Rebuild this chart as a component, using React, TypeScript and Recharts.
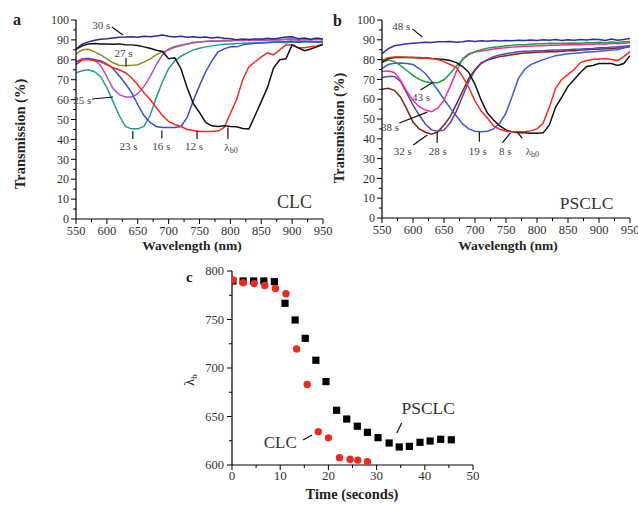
import React from 'react';
import { LineChart, Line, XAxis, YAxis, ReferenceDot, ReferenceLine, ScatterChart, Scatter } from 'recharts';

const FONT = '"Liberation Serif", "Times New Roman", Times, serif';

// ---------- shared axes ----------
const wavelengths = [550, 560, 570, 580, 590, 600, 610, 620, 630, 640, 650, 660, 670, 680, 690, 700, 710, 720, 730, 740, 750, 760, 770, 780, 790, 800, 810, 820, 830, 840, 850, 860, 870, 880, 890, 900, 910, 920, 930, 940, 950];
const wlTicks = [550, 575, 600, 625, 650, 675, 700, 725, 750, 775, 800, 825, 850, 875, 900, 925, 950];
const transTicks = [0, 5, 10, 15, 20, 25, 30, 35, 40, 45, 50, 55, 60, 65, 70, 75, 80, 85, 90, 95, 100];
const timeTicks = [0, 5, 10, 15, 20, 25, 30, 35, 40, 45, 50];
const lambdaTicks = [600, 625, 650, 675, 700, 725, 750, 775, 800];

// ---------- panel a (CLC) ----------
const clc30s = [85.5, 87.8, 89, 89.8, 90.3, 90.6, 91, 91.3, 91.4, 91.6, 91.3, 91.8, 91.6, 92, 92.4, 91.8, 91.5, 91.8, 91.3, 91.6, 91.2, 91.5, 91.0, 91.3, 90.8, 90.6, 90.1, 90.4, 90.2, 90.5, 90.3, 90.8, 90.5, 91.0, 91.5, 91.6, 90.6, 91.0, 90.3, 90.9, 90.5];
const clc27s = [83, 85, 85.3, 84, 82.5, 80.5, 78.5, 77.3, 77, 77.2, 77.5, 78.8, 80.5, 82.5, 84, 85, 86.3, 87, 87.8, 88.5, 89, 89.3, 89.5, 89.4, 89.8, 89.6, 90, 89.8, 90.1, 89.9, 90.2, 90, 90.3, 90.1, 90.4, 90.6, 90, 90.4, 90.1, 90.5, 90.2];
const clc25s = [79, 80.5, 80.8, 80, 77, 71.5, 65.5, 62.5, 61.3, 61.3, 63, 66.5, 71.5, 77.5, 82.5, 85.5, 86.7, 87.5, 88, 88.8, 89, 89.2, 89.5, 89.3, 89.6, 89.5, 89.8, 89.6, 89.9, 89.7, 90, 89.8, 90.1, 89.9, 90.2, 90.5, 89.8, 90.2, 89.9, 90.3, 90];
const clc23s = [73.5, 74.5, 75, 74, 71.5, 66, 59, 52, 46.5, 45.3, 45.3, 46.5, 52, 61, 69, 75.5, 79.5, 81.8, 83.5, 85, 85.8, 86.5, 87, 87.5, 87.8, 88, 88.2, 88.3, 88.5, 88.5, 88.7, 88.8, 88.8, 89, 88.5, 89, 88.8, 89, 89.2, 88.8, 89];
const clc16s = [77.5, 80, 80.5, 80, 79.5, 78, 75.5, 72, 68, 63.5, 57.5, 52, 48.5, 46.5, 46, 46, 46, 46.5, 51, 59.5, 67, 74, 79.5, 84, 85.5, 86.5, 86.5, 87.5, 88, 88.3, 88.5, 88.6, 89, 89, 89.2, 89.5, 89, 89.3, 89, 89.2, 89];
const clc12s = [79, 80, 80.2, 79.5, 79, 77.5, 76, 75, 73.5, 71, 67.5, 63.5, 60, 56, 52, 49, 47.5, 46.5, 45, 44.5, 44, 44, 44, 44.2, 46, 53, 60, 70, 76.5, 79, 81.5, 83.5, 82.5, 85, 87.5, 87.5, 86, 86, 86.5, 87, 88];
const clcB0 = [85.3, 87, 88, 88.2, 88, 88, 87.8, 88, 87.6, 87.5, 87.2, 86.5, 85.8, 84.8, 84.2, 80.5, 81, 75.5, 66, 58, 53.5, 48.5, 46.8, 46.5, 46.8, 46.5, 46.4, 45.5, 45.3, 52, 59, 66, 76, 80, 80.5, 87.5, 86, 84.6, 85.4, 86.5, 87.7];

// ---------- panel b (PSCLC) ----------
const ps48s = [83, 85.5, 87, 87.5, 88, 88.3, 88.5, 88.8, 88.6, 89, 89, 89.2, 88.8, 89, 89.5, 89.2, 89.5, 89.3, 89.6, 89.4, 89.7, 89.5, 89.8, 89.6, 89.9, 89.7, 90, 89.8, 90.1, 89.7, 90, 89.8, 90.2, 89.9, 90.3, 90.1, 89.6, 90.4, 89.8, 90.2, 90.6];
const ps43s = [78.5, 79.8, 79, 77, 74.5, 72, 70, 68.8, 68.3, 68.3, 69.8, 73, 76.8, 80, 82.5, 84, 85, 85.8, 86.2, 86.5, 87, 87.2, 87.5, 87.5, 87.8, 88, 88, 88.2, 88.1, 88.3, 88.2, 88.4, 88.3, 88.6, 88.4, 88.8, 88.5, 88.9, 88.6, 89, 89.2];
const ps38s = [74, 74.2, 73.5, 69.5, 64, 59.5, 56.2, 54.5, 53.7, 55.5, 59.5, 66.5, 74, 80.5, 83, 83.8, 84.3, 84.8, 85.3, 85.7, 86, 86.3, 86.5, 86.7, 86.8, 87, 87, 87.2, 87.3, 87.4, 87.5, 87.6, 87.5, 87.8, 87.7, 88, 87.8, 88.2, 88, 88.3, 88.5];
const ps32s = [65, 65.5, 64.5, 61, 55, 48.5, 45, 43.3, 42.3, 43.5, 47, 51.2, 57.5, 64, 70.5, 75, 78.3, 79.8, 80.7, 81.5, 82, 82.5, 83, 83.3, 83.5, 83.7, 83.8, 84, 84, 84.2, 84.5, 84.5, 84.8, 85, 85.2, 85.2, 85.5, 85.6, 85.8, 86, 86.5];
const ps28s = [71, 71.5, 71.5, 69, 63, 57, 52, 47.5, 44.5, 43.8, 44.5, 48, 54, 61.5, 69, 74.5, 78, 80, 81.5, 82.3, 83, 83.5, 84, 84.2, 84.3, 84.5, 84.5, 84.7, 84.8, 84.8, 85, 85.2, 85.3, 85.5, 85.6, 86, 86, 86.3, 86.5, 86.8, 87];
const ps19s = [75.5, 77.5, 78.2, 78.3, 78, 77.5, 75.5, 73, 69, 64.5, 60, 55.5, 51.5, 47.5, 45, 43.8, 43.5, 43.8, 45, 48, 53, 61.5, 70.5, 75, 77.5, 78.8, 80, 81, 82, 82.5, 83, 83.2, 83.5, 83.8, 84, 84.2, 84.5, 84.8, 85, 86, 87];
const ps8s = [79.5, 81, 81.3, 81.3, 81.2, 81, 81, 80.8, 80.6, 80, 79, 77.5, 76, 71.5, 66, 59, 54, 50.5, 46.5, 44.8, 43.8, 43.5, 43.5, 43.6, 44, 45, 48, 56, 65.5, 70, 72.5, 75, 78.5, 79.5, 80, 80.3, 80.6, 80, 79.5, 81.5, 84];
const psB0 = [79, 80.5, 81, 81, 81, 81, 80.8, 80.8, 80.5, 80.3, 80, 79.5, 78.5, 76.5, 73.5, 67.5, 59.5, 53, 49.5, 46.5, 44.5, 43.5, 43, 43, 42.8, 42.8, 43, 47, 56, 61, 66.5, 70, 73.5, 76.5, 77, 78, 78, 78, 77, 78, 82];

// ---------- panel c ----------
const psclcTime = [0.2, 2.3, 4.5, 6.6, 8.8, 11, 13.1, 15.2, 17.4, 19.5, 21.7, 23.8, 26, 28.1, 30.3, 32.6, 34.7, 36.8, 39, 41.1, 43.3, 45.5];
const psclcLambda = [789.7, 789.7, 789.7, 789.7, 789, 766.7, 749.5, 730.6, 708, 686, 656.4, 647.4, 640, 633.7, 628.2, 622.7, 618.6, 619.2, 623.4, 624.7, 626.5, 626];
const clcTime = [0.2, 2.3, 4.6, 6.8, 9, 11.2, 13.4, 15.6, 17.9, 20, 22.3, 24.5, 26.1, 28.1];
const clcLambda = [790.7, 788, 787, 785, 782, 776.6, 719.6, 683, 634.4, 628, 607.6, 606, 605, 603.4];

// ---------- helpers ----------
function makeXTick(step: number, fontSize: number, gap: number) {
  return (props: any) => {
    const { x, y, payload } = props;
    const v = payload.value;
    const major = Math.abs(v % step) < 1e-6;
    return (
      <g>
        <line x1={x} x2={x} y1={y} y2={y + (major ? 5 : 3)} stroke="#000" strokeWidth={1} />
        {major && (
          <text x={x} y={y + gap} textAnchor="middle" fontSize={fontSize} fontFamily={FONT} fill="#333">
            {v}
          </text>
        )}
      </g>
    );
  };
}

function makeYTick(step: number, fontSize: number, gap: number) {
  return (props: any) => {
    const { x, y, payload } = props;
    const v = payload.value;
    const major = Math.abs(v % step) < 1e-6;
    return (
      <g>
        <line x1={x - (major ? 5 : 3)} x2={x} y1={y} y2={y} stroke="#000" strokeWidth={1} />
        {major && (
          <text x={x - gap} y={y} dy="0.35em" textAnchor="end" fontSize={fontSize} fontFamily={FONT} fill="#333">
            {v}
          </text>
        )}
      </g>
    );
  };
}

const ann = (text: React.ReactNode, size = 11, color = '#444') => (p: any) => (
  <text x={p.cx} y={p.cy} textAnchor="middle" dominantBaseline="central" fontSize={size} fontFamily={FONT} fill={color} stroke="none">
    {text}
  </text>
);

const lb0 = (
  <>
    λ<tspan fontSize={8} dy={3}>b0</tspan>
  </>
);

const lead = (x1: number, y1: number, x2: number, y2: number, key: string) => (
  <ReferenceLine
    key={key}
    segment={[{ x: x1, y: y1 }, { x: x2, y: y2 }]}
    stroke="#111"
    strokeWidth={1.2}
    ifOverflow="visible"
  />
);

const axisLine = { stroke: '#000', strokeWidth: 1.2 };

export default function App() {
  const dataA = wavelengths.map((w, i) => ({
    wl: w,
    s30: clc30s[i],
    s27: clc27s[i],
    s25: clc25s[i],
    s23: clc23s[i],
    s16: clc16s[i],
    s12: clc12s[i],
    b0: clcB0[i],
  }));
  const dataB = wavelengths.map((w, i) => ({
    wl: w,
    s48: ps48s[i],
    s43: ps43s[i],
    s38: ps38s[i],
    s32: ps32s[i],
    s28: ps28s[i],
    s19: ps19s[i],
    s8: ps8s[i],
    b0: psB0[i],
  }));
  const dataPS = psclcTime.map((t, i) => ({ t, lb: psclcLambda[i] }));
  const dataCLC = clcTime.map((t, i) => ({ t, lb: clcLambda[i] }));

  const xTickAB = makeXTick(50, 12.5, 16);
  const yTickAB = makeYTick(10, 12, 7);
  const xTickC = makeXTick(10, 13, 15);
  const yTickC = makeYTick(50, 12.5, 8);

  const lw = 1.5;

  return (
    <div style={{ position: 'absolute', left: 0, top: 0, width: 638, height: 506, background: '#fff', fontFamily: FONT }}>
      {/* Panel a */}
      <div style={{ position: 'absolute', left: 0, top: 0 }}>
        <LineChart width={345} height={260} data={dataA} margin={{ top: 20, right: 22, bottom: 5, left: 6 }}>
          <XAxis type="number" dataKey="wl" domain={[550, 950]} ticks={wlTicks} interval={0} tickSize={0} tickMargin={0} tickLine={false} tick={xTickAB} axisLine={axisLine} height={36} allowDataOverflow />
          <YAxis type="number" domain={[0, 100]} ticks={transTicks} interval={0} tickSize={0} tickMargin={0} tickLine={false} tick={yTickAB} axisLine={axisLine} width={70} allowDataOverflow />
          <Line dataKey="s27" stroke="#8c8c28" strokeWidth={lw} dot={false} isAnimationActive={false} />
          <Line dataKey="s25" stroke="#b34fc9" strokeWidth={lw} dot={false} isAnimationActive={false} />
          <Line dataKey="s23" stroke="#1f9e8e" strokeWidth={lw} dot={false} isAnimationActive={false} />
          <Line dataKey="s16" stroke="#3350d2" strokeWidth={lw} dot={false} isAnimationActive={false} />
          <Line dataKey="s12" stroke="#f52a1e" strokeWidth={lw} dot={false} isAnimationActive={false} />
          <Line dataKey="b0" stroke="#111111" strokeWidth={lw} dot={false} isAnimationActive={false} />
          <Line dataKey="s30" stroke="#2b2a8f" strokeWidth={lw} dot={false} isAnimationActive={false} />
          {lead(608, 96.5, 626, 92.5, 'a30')}
          {lead(631, 80.9, 631, 76.9, 'a27')}
          {lead(576, 60.3, 610, 61.3, 'a25')}
          {lead(642, 44.2, 642, 40.2, 'a23')}
          {lead(689, 44.5, 689, 40.5, 'a16')}
          {lead(746, 44.2, 746, 40.2, 'a12')}
          {lead(796, 46, 796, 40.2, 'ab0')}
          <ReferenceDot x={591} y={97.3} r={0} shape={ann('30 s')} />
          <ReferenceDot x={627} y={83.4} r={0} shape={ann('27 s')} />
          <ReferenceDot x={560} y={59.8} r={0} shape={ann('25 s')} />
          <ReferenceDot x={635} y={36.7} r={0} shape={ann('23 s')} />
          <ReferenceDot x={688} y={36.7} r={0} shape={ann('16 s')} />
          <ReferenceDot x={741} y={36.7} r={0} shape={ann('12 s')} />
          <ReferenceDot x={801} y={36.2} r={0} shape={ann(lb0)} />
          <ReferenceDot x={904} y={8.5} r={0} shape={ann('CLC', 18, '#333')} />
        </LineChart>
      </div>

      {/* Panel b */}
      <div style={{ position: 'absolute', left: 330, top: 0 }}>
        <LineChart width={308} height={260} data={dataB} margin={{ top: 20, right: 8, bottom: 6, left: 12 }}>
          <XAxis type="number" dataKey="wl" domain={[550, 950]} ticks={wlTicks} interval={0} tickSize={0} tickMargin={0} tickLine={false} tick={xTickAB} axisLine={axisLine} height={36} allowDataOverflow />
          <YAxis type="number" domain={[0, 100]} ticks={transTicks} interval={0} tickSize={0} tickMargin={0} tickLine={false} tick={yTickAB} axisLine={axisLine} width={40} allowDataOverflow />
          <Line dataKey="s32" stroke="#8b1c1c" strokeWidth={lw} dot={false} isAnimationActive={false} />
          <Line dataKey="s28" stroke="#5048b0" strokeWidth={lw} dot={false} isAnimationActive={false} />
          <Line dataKey="s19" stroke="#3a5cd8" strokeWidth={lw} dot={false} isAnimationActive={false} />
          <Line dataKey="s38" stroke="#f030a0" strokeWidth={lw} dot={false} isAnimationActive={false} />
          <Line dataKey="s43" stroke="#1f9e40" strokeWidth={lw} dot={false} isAnimationActive={false} />
          <Line dataKey="b0" stroke="#111111" strokeWidth={lw} dot={false} isAnimationActive={false} />
          <Line dataKey="s8" stroke="#f52a1e" strokeWidth={lw} dot={false} isAnimationActive={false} />
          <Line dataKey="s48" stroke="#2e2ea8" strokeWidth={lw} dot={false} isAnimationActive={false} />
          {lead(599, 95.5, 615, 91.4, 'b48')}
          {lead(612, 64.6, 633, 68.7, 'b43')}
          {lead(578, 48, 623, 53.5, 'b38')}
          {lead(600.5, 36.9, 623, 41.9, 'b32')}
          {lead(639, 43.4, 639, 38, 'b28')}
          {lead(707, 43.4, 707, 38.5, 'b19')}
          {lead(744, 37.9, 757, 42.9, 'b8')}
          {lead(776, 40.4, 768, 43.4, 'bb0')}
          <ReferenceDot x={581} y={97} r={0} shape={ann('48 s')} />
          <ReferenceDot x={613} y={61.1} r={0} shape={ann('43 s')} />
          <ReferenceDot x={563} y={46} r={0} shape={ann('38 s')} />
          <ReferenceDot x={583.5} y={33.8} r={0} shape={ann('32 s')} />
          <ReferenceDot x={640} y={33.8} r={0} shape={ann('28 s')} />
          <ReferenceDot x={704.5} y={33.8} r={0} shape={ann('19 s')} />
          <ReferenceDot x={749} y={33.8} r={0} shape={ann('8 s')} />
          <ReferenceDot x={792.5} y={33.8} r={0} shape={ann(lb0)} />
          <ReferenceDot x={880} y={7.6} r={0} shape={ann('PSCLC', 17.5, '#333')} />
        </LineChart>
      </div>

      {/* Panel c */}
      <div style={{ position: 'absolute', left: 180, top: 255 }}>
        <ScatterChart width={320} height={251} margin={{ top: 16, right: 27, bottom: 11, left: 12 }}>
          <XAxis type="number" dataKey="t" domain={[0, 50]} ticks={timeTicks} interval={0} tickSize={0} tickMargin={0} tickLine={false} tick={xTickC} axisLine={axisLine} height={30} allowDataOverflow />
          <YAxis type="number" dataKey="lb" domain={[600, 800]} ticks={lambdaTicks} interval={0} tickSize={0} tickMargin={0} tickLine={false} tick={yTickC} axisLine={axisLine} width={40} allowDataOverflow />
          <Scatter
            data={dataPS}
            isAnimationActive={false}
            shape={(p: any) => <rect x={p.cx - 3.6} y={p.cy - 3.6} width={7.2} height={7.2} fill="#000" />}
          />
          <Scatter
            data={dataCLC}
            isAnimationActive={false}
            shape={(p: any) => <circle cx={p.cx} cy={p.cy} r={3.7} fill="#ee2a1c" />}
          />
          {lead(14.75, 625.8, 16.6, 631, 'cclc')}
          {lead(35.2, 643.3, 34.2, 633, 'cps')}
          <ReferenceDot x={10} y={622.7} r={0} shape={ann('CLC', 17, '#333')} />
          <ReferenceDot x={40.7} y={658.8} r={0} shape={ann('PSCLC', 17.5, '#333')} />
        </ScatterChart>
      </div>

      {/* Panel letters and axis titles */}
      <svg width={638} height={506} style={{ position: 'absolute', left: 0, top: 0, pointerEvents: 'none' }}>
        <g fontFamily={FONT} fill="#222">
          <text x={13} y={25} fontSize={16} fontWeight="bold">a</text>
          <text x={333} y={26} fontSize={16} fontWeight="bold">b</text>
          <text x={186} y={282} fontSize={15} fontWeight="bold">c</text>
          <text transform="translate(25,134) rotate(-90)" textAnchor="middle" fontSize={14.5} fontWeight="bold">Transmission (%)</text>
          <text transform="translate(344,128) rotate(-90)" textAnchor="middle" fontSize={14.5} fontWeight="bold">Transmission (%)</text>
          <text x={192} y={250} textAnchor="middle" fontSize={13.5} fontWeight="bold">Wavelength (nm)</text>
          <text x={508} y={250} textAnchor="middle" fontSize={13.5} fontWeight="bold">Wavelength (nm)</text>
          <text x={352} y={499} textAnchor="middle" fontSize={14.5} fontWeight="bold">Time (seconds)</text>
          <text transform="translate(194,380) rotate(-90)" textAnchor="middle" fontSize={14}>
            λ<tspan fontSize={9} dy={3}>b</tspan>
          </text>
        </g>
      </svg>
    </div>
  );
}
